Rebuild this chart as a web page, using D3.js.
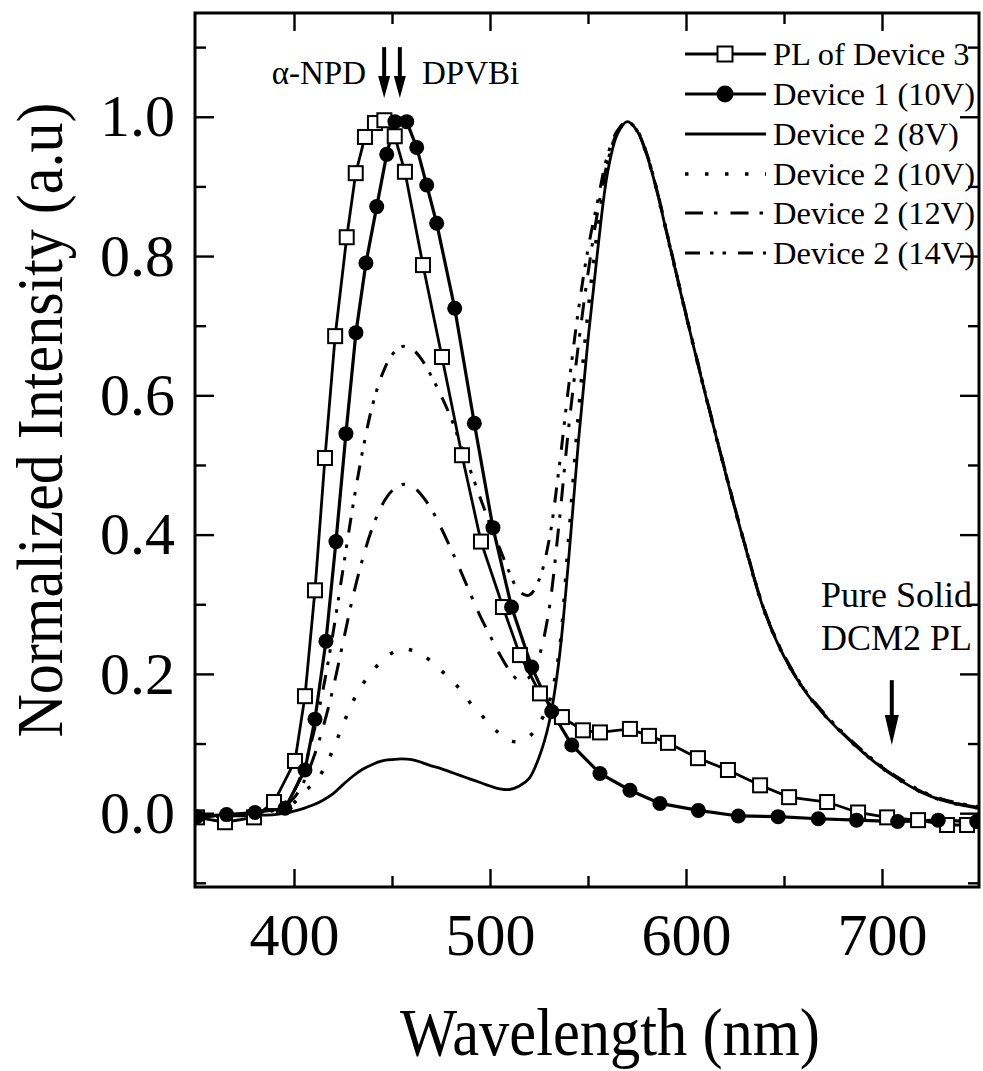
<!DOCTYPE html>
<html><head><meta charset="utf-8">
<script src="https://cdn.jsdelivr.net/npm/d3@7"></script>
<style>
body{margin:0;background:#fff}
svg{display:block}
text{font-family:"Liberation Serif","Times New Roman",serif;fill:#000}
</style>
</head><body>
<svg id="c" width="983" height="1071"></svg>
<script>
// ---- data ----
const plWl  = [350.5,364.8,379.6,389.8,400.5,405.6,410.7,415.8,421.0,426.9,431.5,436.2,441.3,446.1,451.4,456.6,465.8,475.5,485.7,495.4,506.6,515.3,525.5,536.7,547.4,556.1,571.4,581.1,590.8,606.1,621.4,637.8,652.6,672.0,687.8,702.6,718.4,733.2,743.4];
const plVal = [-0.006,-0.013,-0.006,0.016,0.075,0.168,0.32,0.51,0.685,0.827,0.919,0.971,0.991,0.995,0.972,0.921,0.787,0.655,0.514,0.39,0.296,0.227,0.172,0.138,0.119,0.116,0.121,0.111,0.101,0.079,0.062,0.040,0.023,0.016,0.001,-0.006,-0.010,-0.017,-0.017];

const d1Wl  = [350.4,365.6,380.1,395.4,405.6,410.7,416.3,421.4,426.5,431.6,436.7,442.2,447.3,451.5,457.5,462.6,467.7,472.8,482.0,492.0,501.5,511.0,521.3,531.5,541.7,556.1,571.4,586.7,606.3,626.7,647.0,667.5,687.0,708.0,728.7,748.3];
const d1Val = [-0.005,-0.002,0.001,0.007,0.062,0.135,0.247,0.39,0.545,0.69,0.79,0.871,0.946,0.993,0.993,0.956,0.902,0.847,0.725,0.56,0.41,0.296,0.21,0.146,0.098,0.057,0.033,0.014,0.004,-0.004,-0.005,-0.008,-0.010,-0.012,-0.010,-0.012];

const d2Wl  = [350,360,370,380,390,395,400,405,410,415,420,425,430,435,440,445,450,455,460,465,470,475,480,485,490,495,500,505,510,515,520,525,530,535,540,545,550,555,560,565,570,575,580,585,590,595,600,610,620,630,640,650,660,670,680,690,700,710,720,730,740,750];
const d2V8  = [-0.004,-0.004,-0.004,-0.003,-0.002,0.0,0.003,0.007,0.012,0.019,0.028,0.041,0.053,0.063,0.070,0.075,0.077,0.078,0.077,0.073,0.068,0.064,0.059,0.054,0.049,0.044,0.039,0.035,0.034,0.039,0.050,0.080,0.128,0.215,0.36,0.53,0.68,0.81,0.92,0.975,0.993,0.98,0.945,0.895,0.835,0.775,0.715,0.60,0.49,0.385,0.29,0.225,0.178,0.143,0.114,0.088,0.065,0.046,0.030,0.019,0.012,0.007];
const d2V10 = [-0.004,-0.004,-0.003,-0.002,0.002,0.006,0.015,0.030,0.043,0.062,0.092,0.127,0.160,0.185,0.204,0.219,0.230,0.236,0.234,0.228,0.218,0.205,0.192,0.177,0.158,0.143,0.127,0.114,0.104,0.103,0.110,0.128,0.158,0.225,0.39,0.57,0.72,0.84,0.93,0.978,0.993,0.98,0.945,0.895,0.835,0.775,0.715,0.60,0.49,0.385,0.29,0.225,0.178,0.143,0.114,0.088,0.065,0.046,0.030,0.019,0.012,0.007];
const d2V12 = [-0.004,-0.004,-0.003,-0.001,0.004,0.010,0.022,0.045,0.080,0.125,0.180,0.245,0.310,0.365,0.410,0.443,0.463,0.472,0.470,0.457,0.437,0.410,0.380,0.348,0.315,0.283,0.255,0.228,0.205,0.190,0.195,0.225,0.290,0.410,0.55,0.67,0.775,0.865,0.935,0.978,0.993,0.98,0.946,0.896,0.836,0.776,0.716,0.601,0.491,0.386,0.291,0.226,0.179,0.144,0.115,0.089,0.066,0.047,0.031,0.020,0.013,0.008];
const d2V14 = [-0.004,-0.004,-0.003,0.0,0.006,0.014,0.032,0.065,0.115,0.180,0.260,0.350,0.440,0.520,0.585,0.630,0.658,0.670,0.667,0.652,0.628,0.600,0.568,0.530,0.492,0.453,0.415,0.380,0.345,0.318,0.313,0.335,0.390,0.490,0.61,0.72,0.81,0.88,0.945,0.98,0.993,0.981,0.947,0.897,0.837,0.777,0.717,0.602,0.492,0.387,0.292,0.227,0.180,0.145,0.116,0.090,0.067,0.048,0.032,0.021,0.014,0.009];

const xMajor = [400,500,600,700];
const xMinor = [450,550,650];
const yMajor = [0.0,0.2,0.4,0.6,0.8,1.0];
const yMinor = [-0.1,0.1,0.3,0.5,0.7,0.9,1.1];
const legendLabels = ["PL of Device 3","Device 1 (10V)","Device 2 (8V)","Device 2 (10V)","Device 2 (12V)","Device 2 (14V)"];

// ---- layout ----
const svg = d3.select("#c");
const L=195, R=979, T=13, B=887;
const x = d3.scaleLinear().domain([350,750]).range([196,980]);
const y = d3.scaleLinear().domain([-0.106,1.149]).range([887,13]);

const dashes = {
  solid: null,
  dot: "3.5,16.5",
  dashdot: "18,11,3.5,13",
  dashdotdot: "15,10,3.5,9,3.5,12"
};

svg.append("clipPath").attr("id","clip").append("rect")
  .attr("x",L).attr("y",T).attr("width",R-L).attr("height",B-T);
const g = svg.append("g").attr("clip-path","url(#clip)");

const line = d3.line().x(d=>x(d[0])).y(d=>y(d[1])).curve(d3.curveCatmullRom.alpha(0.5));
const lineLin = d3.line().x(d=>x(d[0])).y(d=>y(d[1]));

const dev2 = [
  {v:d2V8, dash:dashes.solid, w:2.8},
  {v:d2V10, dash:dashes.dot, w:3.5},
  {v:d2V12, dash:dashes.dashdot, w:3},
  {v:d2V14, dash:dashes.dashdotdot, w:3}
];
dev2.forEach(s=>{
  g.append("path").datum(d3.zip(d2Wl,s.v)).attr("d",line)
   .attr("fill","none").attr("stroke","#000").attr("stroke-width",s.w)
   .attr("stroke-dasharray",s.dash);
});

const plData = d3.zip(plWl,plVal);
const d1Data = d3.zip(d1Wl,d1Val);
g.append("path").datum(plData).attr("d",lineLin).attr("fill","none").attr("stroke","#000").attr("stroke-width",2.8);
g.append("path").datum(d1Data).attr("d",lineLin).attr("fill","none").attr("stroke","#000").attr("stroke-width",3.2);
g.selectAll("rect.pl").data(plData).join("rect").attr("class","pl")
  .attr("x",d=>x(d[0])-7).attr("y",d=>y(d[1])-7).attr("width",14).attr("height",14)
  .attr("fill","#fff").attr("stroke","#000").attr("stroke-width",2);
g.selectAll("circle.d1").data(d1Data).join("circle").attr("class","d1")
  .attr("cx",d=>x(d[0])).attr("cy",d=>y(d[1])).attr("r",7.5).attr("fill","#000");

// ---- axes ----
function ax(gen, tr, vals, len, labels, fs, pad){
  const a = gen.tickValues(vals).tickSizeInner(-len).tickSizeOuter(0).tickPadding(pad||0);
  if(!labels) a.tickFormat("");
  const sel = svg.append("g").attr("transform",tr).call(a);
  sel.select(".domain").remove();
  sel.selectAll(".tick line").attr("stroke","#000").attr("stroke-width",2.4);
  sel.selectAll("text").attr("font-size",fs).attr("fill","#000");
  return sel;
}
ax(d3.axisBottom(x), `translate(0,${B})`, xMajor, 18, true, 60, 25);
ax(d3.axisBottom(x), `translate(0,${B})`, xMinor, 11, false);
ax(d3.axisTop(x), `translate(0,${T})`, xMajor, 18, false);
ax(d3.axisTop(x), `translate(0,${T})`, xMinor, 11, false);
ax(d3.axisLeft(y).tickFormat(d3.format(".1f")), `translate(${L},0)`, yMajor, 19, true, 60, 20);
ax(d3.axisLeft(y), `translate(${L},0)`, yMinor, 11, false);
ax(d3.axisRight(y), `translate(${R},0)`, yMajor, 19, false);
ax(d3.axisRight(y), `translate(${R},0)`, yMinor, 11, false);

svg.append("rect").attr("x",L).attr("y",T).attr("width",R-L).attr("height",B-T)
  .attr("fill","none").attr("stroke","#000").attr("stroke-width",3);

// axis titles
svg.append("text").attr("x",610).attr("y",1055).attr("text-anchor","middle")
  .attr("font-size",68).attr("textLength",420).attr("lengthAdjust","spacingAndGlyphs")
  .text("Wavelength (nm)");
svg.append("text").attr("transform","translate(62,420) rotate(-90)").attr("text-anchor","middle")
  .attr("font-size",66).attr("textLength",635).attr("lengthAdjust","spacingAndGlyphs")
  .text("Normalized Intensity (a.u)");

// ---- legend ----
const lg = svg.append("g");
const legY = [54,94,134,174,213,253];
const legStyles = [
  {dash:null, mark:"sq", w:2.8},
  {dash:null, mark:"ci", w:3.2},
  {dash:null, w:2.8},
  {dash:dashes.dot, w:3.5},
  {dash:dashes.dashdot, w:3},
  {dash:dashes.dashdotdot, w:3}
];
legendLabels.forEach((lab,i)=>{
  const cy = legY[i], st = legStyles[i];
  lg.append("line").attr("x1",685).attr("x2",766).attr("y1",cy).attr("y2",cy)
    .attr("stroke","#000").attr("stroke-width",st.w).attr("stroke-dasharray",st.dash);
  if(st.mark==="sq") lg.append("rect").attr("x",725-7.5).attr("y",cy-7.5).attr("width",15).attr("height",15)
     .attr("fill","#fff").attr("stroke","#000").attr("stroke-width",2);
  if(st.mark==="ci") lg.append("circle").attr("cx",725).attr("cy",cy).attr("r",8.5).attr("fill","#000");
  lg.append("text").attr("x",773).attr("y",cy+10.5).attr("font-size",32.5).text(lab);
});

// ---- annotations ----
function arrow(xp, y0, y1, hw, hl, sw){
  svg.append("line").attr("x1",xp).attr("x2",xp).attr("y1",y0).attr("y2",y1-hl+2)
    .attr("stroke","#000").attr("stroke-width",sw);
  svg.append("path").attr("d",`M${xp-hw/2},${y1-hl} L${xp+hw/2},${y1-hl} L${xp},${y1} Z`).attr("fill","#000");
}
arrow(x(446), y(1.100), y(1.027), 12, 22, 4);
arrow(x(454), y(1.100), y(1.027), 12, 22, 4);
svg.append("text").attr("x",366).attr("y",84).attr("text-anchor","end").attr("font-size",33).text("α-NPD");
svg.append("text").attr("x",422).attr("y",84).attr("font-size",33).text("DPVBi");

arrow(x(705), y(0.191), y(0.098), 14, 30, 4);
svg.append("text").attr("x",972).attr("y",607).attr("text-anchor","end").attr("font-size",36).text("Pure Solid");
svg.append("text").attr("x",972).attr("y",650).attr("text-anchor","end").attr("font-size",36).text("DCM2 PL");
</script>
</body></html>
